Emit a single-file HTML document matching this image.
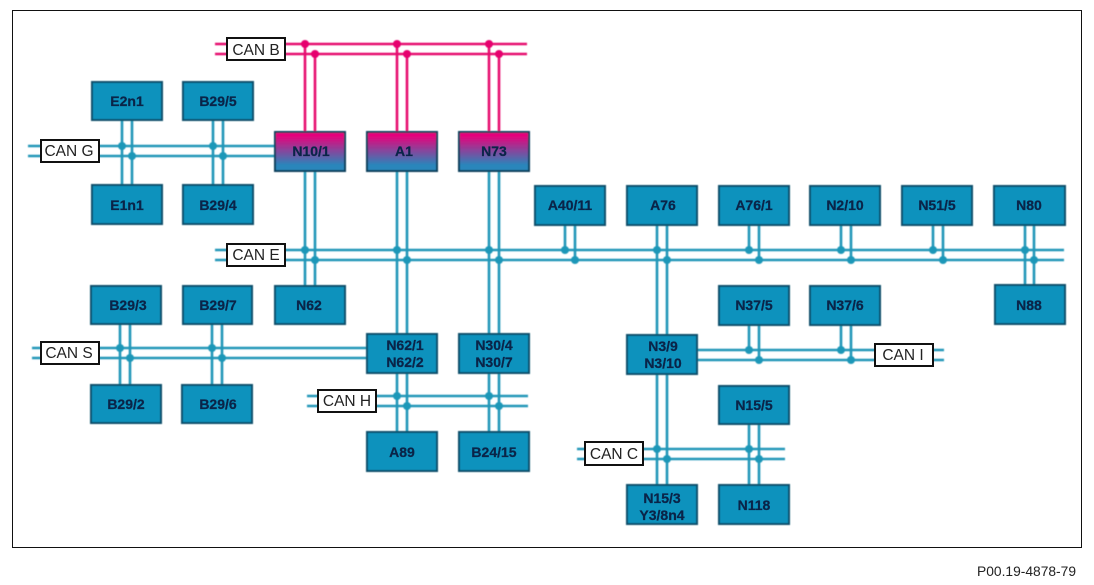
<!DOCTYPE html>
<html><head><meta charset="utf-8"><style>
html,body{margin:0;padding:0;background:#fff;width:1094px;height:585px;overflow:hidden}
svg{display:block}
text{font-family:"Liberation Sans",sans-serif}
.b{fill:#0f92bd;stroke:#0c4f6b;stroke-width:2}
.g{fill:url(#gr);stroke:#0c3f5b;stroke-width:2}
.t{font-weight:bold;font-size:14px;fill:#0a2448;stroke:#0a2448;stroke-width:.25;text-anchor:middle}
.l{fill:#fff;stroke:#111;stroke-width:2}
.lt{font-size:15.5px;fill:#222;text-anchor:middle}
.c path{fill:none;stroke:#2097b8;stroke-width:2.6}
.c circle{fill:#1f97b8}
.m path{fill:none;stroke:#e6106f;stroke-width:2.6}
.m circle{fill:#e6006e}
</style></head><body>
<svg width="1094" height="585" viewBox="0 0 1094 585" xmlns="http://www.w3.org/2000/svg">
<defs>
<linearGradient id="gr" x1="0" y1="0" x2="0" y2="1"><stop offset="0.1" stop-color="#e5047c"/><stop offset="0.85" stop-color="#2a86bb"/></linearGradient>
<filter id="s" filterUnits="userSpaceOnUse" x="0" y="0" width="1094" height="585"><feGaussianBlur stdDeviation="0.4"/></filter>
</defs>
<rect x="12.5" y="10.5" width="1069" height="537" fill="#fff" stroke="#111" stroke-width="1"/>
<g filter="url(#s)">
<g class="m">
<path d="M215 44H527M215 54H527M305 44V132M315 54V132M397 44V132M407 54V132M489 44V132M499 54V132"/>
<circle cx="305" cy="44" r="4"/><circle cx="315" cy="54" r="4"/><circle cx="397" cy="44" r="4"/><circle cx="407" cy="54" r="4"/><circle cx="489" cy="44" r="4"/><circle cx="499" cy="54" r="4"/>
</g>
<g class="c">
<path d="M28 146H275M28 156H275M122 120V185M132 120V185M213 120V185M223 120V185"/>
<path d="M215 250H1064M215 260H1064M305 171V286M315 171V286M397 171V334M407 171V334M489 171V334M499 171V334M565 225V250M575 225V260M657 225V335M667 225V335M749 225V250M759 225V260M841 225V250M851 225V260M933 225V250M943 225V260M1025 225V285M1034 225V285"/>
<path d="M32 348H367M32 358H367M120 324V384M130 324V384M212 324V384M222 324V384"/>
<path d="M307 396H528M307 406H528M397 373V432M407 373V432M489 373V432M499 373V432"/>
<path d="M697 350H944M697 360H944M749 325V350M759 325V360M841 325V350M851 325V360"/>
<path d="M577 449H785M577 459H785M657 374V485M667 374V485M749 424V485M759 424V485"/>
<circle cx="122" cy="146" r="4"/><circle cx="132" cy="156" r="4"/><circle cx="213" cy="146" r="4"/><circle cx="223" cy="156" r="4"/>
<circle cx="305" cy="250" r="4"/><circle cx="315" cy="260" r="4"/><circle cx="397" cy="250" r="4"/><circle cx="407" cy="260" r="4"/><circle cx="489" cy="250" r="4"/><circle cx="499" cy="260" r="4"/><circle cx="565" cy="250" r="4"/><circle cx="575" cy="260" r="4"/><circle cx="657" cy="250" r="4"/><circle cx="667" cy="260" r="4"/><circle cx="749" cy="250" r="4"/><circle cx="759" cy="260" r="4"/><circle cx="841" cy="250" r="4"/><circle cx="851" cy="260" r="4"/><circle cx="933" cy="250" r="4"/><circle cx="943" cy="260" r="4"/><circle cx="1025" cy="250" r="4"/><circle cx="1034" cy="260" r="4"/>
<circle cx="120" cy="348" r="4"/><circle cx="130" cy="358" r="4"/><circle cx="212" cy="348" r="4"/><circle cx="222" cy="358" r="4"/>
<circle cx="397" cy="396" r="4"/><circle cx="407" cy="406" r="4"/><circle cx="489" cy="396" r="4"/><circle cx="499" cy="406" r="4"/>
<circle cx="749" cy="350" r="4"/><circle cx="759" cy="360" r="4"/><circle cx="841" cy="350" r="4"/><circle cx="851" cy="360" r="4"/>
<circle cx="657" cy="449" r="4"/><circle cx="667" cy="459" r="4"/><circle cx="749" cy="449" r="4"/><circle cx="759" cy="459" r="4"/>
</g>
<rect class="b" x="92" y="82" width="70" height="38"/>
<rect class="b" x="183" y="82" width="70" height="38"/>
<rect class="b" x="92" y="185" width="70" height="39"/>
<rect class="b" x="183" y="185" width="70" height="39"/>
<rect class="g" x="275" y="132" width="70" height="39"/>
<rect class="g" x="367" y="132" width="70" height="39"/>
<rect class="g" x="459" y="132" width="70" height="39"/>
<rect class="b" x="535" y="186" width="70" height="39"/>
<rect class="b" x="627" y="186" width="70" height="39"/>
<rect class="b" x="719" y="186" width="70" height="39"/>
<rect class="b" x="810" y="186" width="70" height="39"/>
<rect class="b" x="902" y="186" width="70" height="39"/>
<rect class="b" x="994" y="186" width="71" height="39"/>
<rect class="b" x="995" y="285" width="70" height="39"/>
<rect class="b" x="810" y="286" width="70" height="39"/>
<rect class="b" x="719" y="286" width="70" height="39"/>
<rect class="b" x="275" y="286" width="70" height="38"/>
<rect class="b" x="91" y="286" width="70" height="38"/>
<rect class="b" x="183" y="286" width="69" height="38"/>
<rect class="b" x="91" y="385" width="70" height="38"/>
<rect class="b" x="182" y="385" width="70" height="38"/>
<rect class="b" x="367" y="334" width="70" height="39"/>
<rect class="b" x="459" y="334" width="70" height="39"/>
<rect class="b" x="627" y="335" width="70" height="39"/>
<rect class="b" x="367" y="432" width="70" height="39"/>
<rect class="b" x="459" y="432" width="70" height="39"/>
<rect class="b" x="719" y="386" width="70" height="38"/>
<rect class="b" x="627" y="485" width="70" height="39"/>
<rect class="b" x="719" y="485" width="70" height="39"/>
</g>
<rect class="l" x="227" y="38" width="58" height="22"/>
<rect class="l" x="41" y="140" width="58" height="22"/>
<rect class="l" x="227" y="244" width="58" height="22"/>
<rect class="l" x="41" y="342" width="58" height="22"/>
<rect class="l" x="318" y="390" width="58" height="22"/>
<rect class="l" x="875" y="344" width="58" height="22"/>
<rect class="l" x="585" y="442" width="58" height="23"/>
<text class="t" x="127" y="106">E2n1</text>
<text class="t" x="218" y="106">B29/5</text>
<text class="t" x="127" y="210">E1n1</text>
<text class="t" x="218" y="210">B29/4</text>
<text class="t" x="311" y="156">N10/1</text>
<text class="t" x="404" y="156">A1</text>
<text class="t" x="494" y="156">N73</text>
<text class="t" x="570" y="210">A40/11</text>
<text class="t" x="663" y="210">A76</text>
<text class="t" x="754" y="210">A76/1</text>
<text class="t" x="845" y="210">N2/10</text>
<text class="t" x="937" y="210">N51/5</text>
<text class="t" x="1029" y="210">N80</text>
<text class="t" x="1029" y="310">N88</text>
<text class="t" x="845" y="310">N37/6</text>
<text class="t" x="754" y="310">N37/5</text>
<text class="t" x="309" y="310">N62</text>
<text class="t" x="128" y="310">B29/3</text>
<text class="t" x="218" y="310">B29/7</text>
<text class="t" x="126" y="409">B29/2</text>
<text class="t" x="218" y="409">B29/6</text>
<text class="t" x="405" y="350">N62/1</text><text class="t" x="405" y="367">N62/2</text>
<text class="t" x="494" y="350">N30/4</text><text class="t" x="494" y="367">N30/7</text>
<text class="t" x="663" y="351">N3/9</text><text class="t" x="663" y="368">N3/10</text>
<text class="t" x="402" y="457">A89</text>
<text class="t" x="494" y="457">B24/15</text>
<text class="t" x="754" y="410">N15/5</text>
<text class="t" x="662" y="503">N15/3</text><text class="t" x="662" y="520">Y3/8n4</text>
<text class="t" x="754" y="510">N118</text>
<text class="lt" x="256" y="55">CAN B</text>
<text class="lt" x="69" y="156">CAN G</text>
<text class="lt" x="256" y="260">CAN E</text>
<text class="lt" x="69" y="358">CAN S</text>
<text class="lt" x="347" y="406">CAN H</text>
<text class="lt" x="903" y="360">CAN I</text>
<text class="lt" x="614" y="459">CAN C</text>
<text x="1076" y="576" font-size="13.8" fill="#222" text-anchor="end">P00.19-4878-79</text>
</svg>
</body></html>
